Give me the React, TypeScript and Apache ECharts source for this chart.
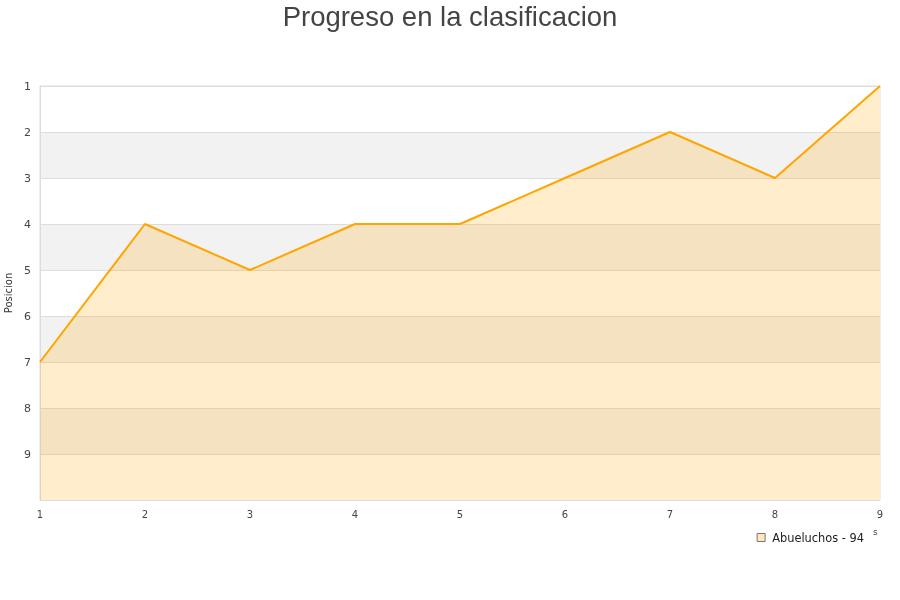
import React, { useEffect, useRef } from "react";
import * as echarts from "echarts";

const rounds = ["1", "2", "3", "4", "5", "6", "7", "8", "9"];
const positions = [7, 4, 5, 4, 4, 3, 2, 3, 1];
const seriesName = "Abueluchos - 94";
const titleText = "Progreso en la clasificacion";
const yName = "Posicion";

export default function App() {
  const ref = useRef<HTMLDivElement>(null);
  useEffect(() => {
    const chart = echarts.init(ref.current!, null, { renderer: "svg" });
    chart.setOption({
      animation: false,
      title: {
        text: titleText,
        left: "center",
        top: -3,
        textStyle: {
          fontFamily: "Liberation Sans, Arial, sans-serif",
          fontSize: 27.5,
          fontWeight: "normal",
          color: "#444",
        },
      },
      grid: {
        left: 40,
        right: 20,
        top: 86,
        bottom: 100,
        containLabel: false,
        outerBoundsMode: "none",
        show: true,
        borderColor: "#ddd",
        borderWidth: 1,
        backgroundColor: "transparent",
      },
      legend: {
        right: 31,
        top: 527,
        icon: "rect",
        itemWidth: 8,
        itemHeight: 8,
        itemGap: 8,
        textStyle: { fontFamily: "DejaVu Sans, sans-serif", fontSize: 11.4, color: "#222", padding: [0, 0, 0, 2] },
        data: [
          {
            name: seriesName,
            itemStyle: { color: "#ffe8c0", borderColor: "#777", borderWidth: 1 },
          },
        ],
      },
      xAxis: {
        type: "category",
        data: rounds,
        boundaryGap: false,
        axisLine: { show: true, lineStyle: { color: "#ddd" } },
        axisTick: { show: false },
        axisLabel: {
          fontFamily: "DejaVu Sans, sans-serif",
          fontSize: 10,
          color: "#444",
          margin: 9,
        },
        splitLine: { show: false },
      },
      yAxis: {
        type: "value",
        inverse: true,
        min: 1,
        max: 10,
        interval: 1,
        name: yName,
        nameLocation: "middle",
        nameGap: 25,
        nameTextStyle: { fontFamily: "DejaVu Sans, sans-serif", fontSize: 10, color: "#333" },
        axisLine: { show: true, lineStyle: { color: "#ddd" } },
        axisTick: { show: false },
        axisLabel: {
          fontFamily: "DejaVu Sans, sans-serif",
          fontSize: 11,
          color: "#444",
          margin: 9,
          formatter: (v: number) => (v === 10 ? "" : String(v)),
        },
        splitLine: { show: true, lineStyle: { color: "#ddd" } },
        splitArea: { show: true, areaStyle: { color: ["#ffffff", "#f2f2f2"] } },
      },
      graphic: [
        {
          type: "text",
          left: 873,
          top: 527,
          style: { text: "s", fontSize: 9, fill: "#444", fontFamily: "DejaVu Sans, sans-serif" },
        },
      ],
      series: [
        {
          name: seriesName,
          type: "line",
          data: positions,
          symbol: "none",
          lineStyle: { color: "#ffa500", width: 2 },
          itemStyle: { color: "#ffa500" },
          areaStyle: { color: "rgba(255,165,0,0.2)", opacity: 1, origin: "end" },
        },
      ],
    });
    return () => chart.dispose();
  }, []);
  return (
    <div
      ref={ref}
      style={{ position: "fixed", left: 0, top: 0, width: 900, height: 600 }}
    />
  );
}
